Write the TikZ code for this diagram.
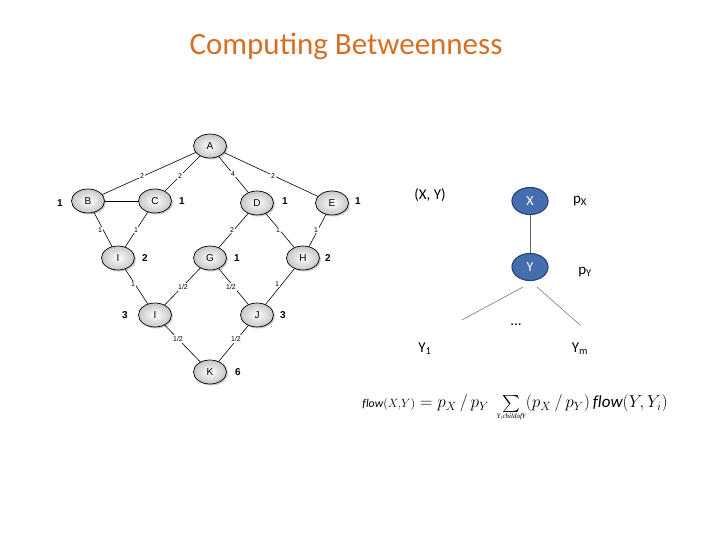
\documentclass[tikz,border=0pt]{standalone}
\usepackage{graphicx}
\usepackage{fontspec}
\setmainfont{Carlito}
\newfontfamily\hel{Liberation Sans}
\newfontfamily\tms{Liberation Serif}
\usetikzlibrary{shadows,shapes.geometric}
\definecolor{ttl}{RGB}{214,110,36}
\definecolor{nblue}{RGB}{70,110,175}
\definecolor{nbord}{RGB}{40,70,120}
\begin{document}
\begin{tikzpicture}[x=1pt,y=-1pt,
 gn/.style={ellipse,draw=black,line width=0.7pt,minimum width=33pt,minimum height=24pt,inner sep=0pt,
   shade,inner color=white,outer color=gray!45,drop shadow={opacity=0.4,shadow xshift=1.5pt,shadow yshift=-1.5pt},font=\hel\fontsize{10}{12}\selectfont},
 el/.style={font=\hel\fontsize{7}{8}\selectfont,fill=white,inner sep=1pt},
 sl/.style={font=\hel\bfseries\fontsize{10}{12}\selectfont},
 ed/.style={line width=0.6pt,black},
 bn/.style={ellipse,fill=nblue,draw=nbord,line width=1.2pt,minimum width=36pt,minimum height=27pt,inner sep=0pt,text=white,font=\fontsize{14}{16}\selectfont},
 tl/.style={line width=0.5pt,gray!80!black},
 rt/.style={font=\fontsize{15}{18}\selectfont}]
\useasboundingbox (0,0) rectangle (720,540);
\node[text=ttl,font=\fontsize{31}{36}\selectfont] (title) at (346,46) {Computing Betweenness};
% graph
\node[gn] (A) at (210,146) {A};
\node[gn] (B) at (88,201) {B};
\node[gn] (C) at (155,201) {C};
\node[gn] (D) at (257,203) {D};
\node[gn] (E) at (332,203) {E};
\node[gn] (I) at (118,258) {I};
\node[gn] (G) at (210,258) {G};
\node[gn] (H) at (303,258) {H};
\node[gn] (I2) at (155,315) {I};
\node[gn] (J) at (257,315) {J};
\node[gn] (K) at (210,372) {K};
\foreach \a/\b in {A/B,A/C,A/D,A/E,B/C,B/I,C/I,D/G,D/H,E/H,I/I2,G/I2,G/J,H/J,I2/K,J/K}
  \draw[ed] (\a) -- (\b);
\node[el] (l1) at (142,176) {2};
\node[el] (l2) at (180,176) {2};
\node[el] (l3) at (233,174) {4};
\node[el] (l4) at (273,176) {2};
\node[el] (l5) at (100,230) {1};
\node[el] (l6) at (136,230) {1};
\node[el] (l7) at (232,230) {2};
\node[el] (l8) at (278,230) {1};
\node[el] (l9) at (316,230) {1};
\node[el] (l10) at (133,284) {1};
\node[el] (l11) at (183,287) {1/2};
\node[el] (l12) at (231,287) {1/2};
\node[el] (l13) at (277,284) {1};
\node[el] (l14) at (178,339) {1/2};
\node[el] (l15) at (236,339) {1/2};
\node[sl] (s1) at (60,203) {1};
\node[sl] (s2) at (182,201) {1};
\node[sl] (s3) at (285,201) {1};
\node[sl] (s4) at (358,201) {1};
\node[sl] (s5) at (145,258) {2};
\node[sl] (s6) at (237,258) {1};
\node[sl] (s7) at (328,258) {2};
\node[sl] (s8) at (125,315) {3};
\node[sl] (s9) at (283,315) {3};
\node[sl] (s10) at (238,372) {6};
% right side
\node[rt] (xy) at (430,195) {(X, Y)};
\node[bn] (X) at (530,201) {X};
\node[bn] (Y) at (530,267) {Y};
\draw[tl] (X) -- (Y);
\node[rt] (px) at (580,201) {p\textsubscript{X}};
\node[rt] (py) at (585,272) {p\textsubscript{Y}};
\coordinate (c1) at (462,320);
\coordinate (c2) at (580,325);
\coordinate (y1) at (523,287);
\coordinate (y2) at (537,287);
\draw[tl] (y1) -- (c1);
\draw[tl] (y2) -- (c2);
\node[rt] (dots) at (516,325) {\dots};
\node[rt] (y1t) at (425,349) {Y\textsubscript{1}};
\node[rt] (ymt) at (580,349) {Y\textsubscript{m}};
\node[font=\fontsize{17}{20}\selectfont,inner sep=0pt] (f) at (515,408)
 {$\displaystyle{\scriptstyle\mathit{flow}(X,Y)}= p_X \,/\, p_Y \;\mathop{\vcenter{\hbox{\scalebox{1.7}{$\sum$}}}}\limits_{\hbox{\tms\itshape\fontsize{7}{8}\selectfont Y\textsubscript{i}childofY}} (p_X \,/\, p_Y)\,\mathit{flow}(Y,Y_i)$};
\end{tikzpicture}
\end{document}
